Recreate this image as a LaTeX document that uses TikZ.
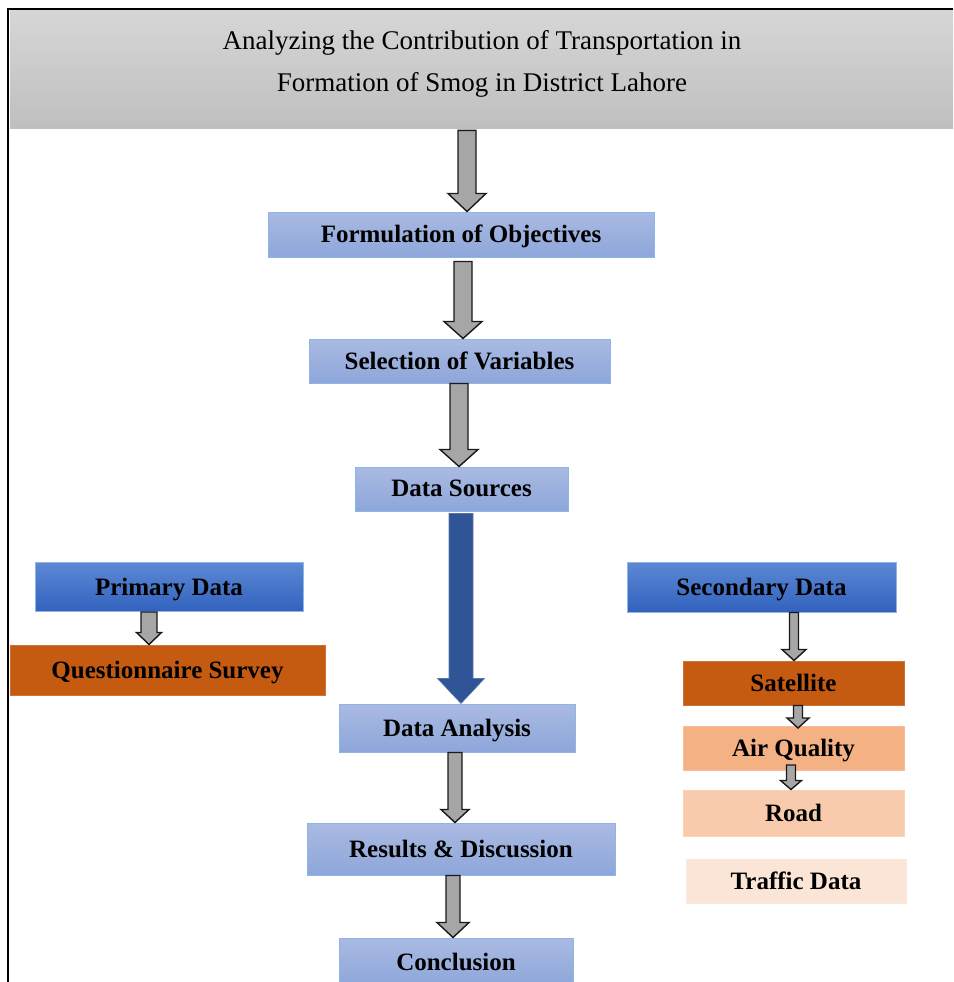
\documentclass[tikz,border=0pt]{standalone}
\usepackage{fontspec}
\setmainfont{Liberation Serif}
\usetikzlibrary{calc}

\definecolor{hdtop}{HTML}{D6D6D6}
\definecolor{hdbot}{HTML}{BFBFBF}
\definecolor{lbtop}{HTML}{AABAE2}
\definecolor{lbbot}{HTML}{8DA6DA}
\definecolor{lbline}{HTML}{8FB4E6}
\definecolor{dbtop}{HTML}{5C88D4}
\definecolor{dbbot}{HTML}{3262BE}
\definecolor{orA}{HTML}{C55A11}
\definecolor{orB}{HTML}{F4B183}
\definecolor{orC}{HTML}{F8CBAD}
\definecolor{orD}{HTML}{FBE5D6}
\definecolor{bigblue}{HTML}{2F5597}

\tikzset{
  arrshaft/.store in=\arrshaft, arrhead/.store in=\arrhead, arrlen/.store in=\arrlen,
  arrshaft=9pt, arrhead=19pt, arrlen=18pt,
  blockarrow/.style = {draw=black!90, line width=1.4pt, fill=black!35,
    to path={let \p1=(\tikztostart), \p2=(\tikztotarget) in
      (\x1-\arrshaft,\y1) -- (\x1+\arrshaft,\y1) -- (\x1+\arrshaft,\y2+\arrlen)
      -- (\x1+\arrhead,\y2+\arrlen) -- (\x2,\y2) -- (\x1-\arrhead,\y2+\arrlen)
      -- (\x1-\arrshaft,\y2+\arrlen) -- cycle}}
}

\begin{document}
\begin{tikzpicture}[
  x=1pt, y=-1pt,
  box/.style      = {rectangle, inner sep=0pt, line width=1pt, text depth=1pt,
                     font=\bfseries\fontsize{25}{28}\selectfont},
  lightbox/.style = {box, top color=lbtop, bottom color=lbbot, draw=lbline},
  darkbox/.style  = {box, top color=dbtop, bottom color=dbbot, draw=lbline},
  orbox/.style    = {box, fill=#1, draw=#1!85!white}
]
\useasboundingbox (0,0) rectangle (953,982);

% ── Frame and header ─────────────────────────────────────────────────────────
\node[rectangle, inner sep=0pt, minimum width=943pt, minimum height=118pt,
      top color=hdtop, bottom color=hdbot, anchor=north west] (title) at (10,10) {};
\node[align=center, font=\fontsize{27}{42}\selectfont] (titletext) at (482,64)
  {Analyzing the Contribution of Transportation in\\Formation of Smog in District Lahore};
\draw[line width=2pt] (953,9) -- (8,9) -- (8,982);

% ── Main column ──────────────────────────────────────────────────────────────
\node[lightbox, minimum width=386pt, minimum height=45pt] (form) at (461,234.5) {Formulation of Objectives};
\node[lightbox, minimum width=301pt, minimum height=44pt] (sel)  at (459.5,361) {Selection of Variables};
\node[lightbox, minimum width=213pt, minimum height=44pt] (src)  at (461.5,489) {Data Sources};
\node[lightbox, minimum width=236pt, minimum height=48pt] (ana)  at (457,728)   {Data Analysis};
\node[lightbox, minimum width=308pt, minimum height=52pt] (res)  at (461,849)   {Results \& Discussion};
\node[lightbox, minimum width=234pt, minimum height=48pt] (con)  at (456,962)   {Conclusion};

% ── Primary side ─────────────────────────────────────────────────────────────
\node[darkbox, minimum width=268pt, minimum height=49pt] (prim)  at (169,587)   {Primary Data};
\node[orbox=orA, minimum width=315pt, minimum height=50pt] (quest) at (167.5,670) {Questionnaire Survey};

% ── Secondary side ───────────────────────────────────────────────────────────
\node[darkbox, minimum width=269pt, minimum height=50pt] (sec)  at (761.5,587) {Secondary Data};
\node[orbox=orA, minimum width=221pt, minimum height=44pt] (sat)  at (793.5,683) {Satellite};
\node[orbox=orB, minimum width=221pt, minimum height=44pt] (air)  at (793.5,748) {Air Quality};
\node[orbox=orC, minimum width=221pt, minimum height=46pt] (road) at (793.5,813) {Road};
\node[orbox=orD, minimum width=220pt, minimum height=44pt] (traf) at (796,881)   {Traffic Data};

% ── Block arrows ─────────────────────────────────────────────────────────────
\draw[blockarrow] (title.south -| 467,0) ++(0,2) to (form.north -| 467,0);
\draw[blockarrow, arrlen=17pt] (form.south -| 463,0) ++(0,4) to (sel.north -| 463,0);
\draw[blockarrow, arrlen=17pt] (sel.south -| 459,0) to (src.north -| 459,0);
\draw[blockarrow, fill=bigblue, draw=bigblue!80!white, line width=0.6pt,
      arrshaft=12pt, arrhead=23.5pt, arrlen=25pt]
  (src.south -| 461,0) ++(0,2) to (ana.north -| 461,0);
\draw[blockarrow, arrshaft=7pt, arrhead=14pt, arrlen=13pt] (ana.south -| 455,0) to (res.north -| 455,0);
\draw[blockarrow, arrshaft=7pt, arrhead=16pt, arrlen=15pt] (res.south -| 453,0) to (con.north -| 453,0);

\draw[blockarrow, arrshaft=8pt, arrhead=12.5pt, arrlen=12pt] (prim.south -| 149,0) to (quest.north -| 149,0);
\draw[blockarrow, arrshaft=4.5pt, arrhead=12pt, arrlen=11pt] (sec.south -| 794,0) to (sat.north -| 794,0);
\draw[blockarrow, arrshaft=4.5pt, arrhead=11pt, arrlen=10pt] (sat.south -| 798,0) to (798,728);
\draw[blockarrow, arrshaft=4.5pt, arrhead=10.5pt, arrlen=9pt] (791,765) to (road.north -| 791,0);

\end{tikzpicture}
\end{document}
